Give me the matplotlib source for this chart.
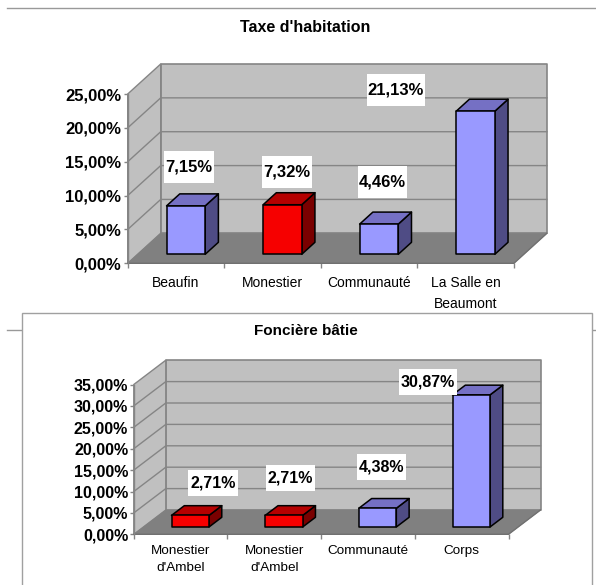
import matplotlib
matplotlib.use("Agg")
from matplotlib import pyplot as plt
from matplotlib.lines import Line2D
from matplotlib.patches import Polygon, Rectangle
from matplotlib.transforms import Affine2D

W, H = 596, 585

# ============================================================
# Data
# ============================================================

cats_th = ["Beaufin", "Monestier", "Communauté", "La Salle en\nBeaumont"]
vals_th = [7.15, 7.32, 4.46, 21.13]
labels_th = ["7,15%", "7,32%", "4,46%", "21,13%"]
red_th = [False, True, False, False]
ticks_th = [0, 5, 10, 15, 20, 25]
ticklabels_th = ["0,00%", "5,00%", "10,00%", "15,00%", "20,00%", "25,00%"]

cats_fb = ["Monestier\nd'Ambel", "Monestier\nd'Ambel", "Communauté", "Corps"]
vals_fb = [2.71, 2.71, 4.38, 30.87]
labels_fb = ["2,71%", "2,71%", "4,38%", "30,87%"]
red_fb = [True, True, False, False]
ticks_fb = [0, 5, 10, 15, 20, 25, 30, 35]
ticklabels_fb = ["0,00%", "5,00%", "10,00%", "15,00%", "20,00%", "25,00%", "30,00%", "35,00%"]

# white boxes behind the value labels, in image pixels (x0, x1, y0, y1)
boxes_th = [(164, 213.6, 151, 182.7), (262, 311.7, 156, 188),
            (357.7, 407, 166, 198), (367, 425, 74, 106)]
boxes_fb = [(188, 237.6, 469.7, 495.7), (265.7, 315, 465, 491),
            (356.5, 406, 454, 480), (399, 456.9, 369.3, 395.3)]

BLUE = ("#9999ff", "#7570c4", "#4f4c85")
RED = ("#f60000", "#b50000", "#7a0000")
GREY_LINE = "#858585"
FONT = "Liberation Sans"

fig = plt.figure(figsize=(W / 100, H / 100), dpi=100, facecolor="white")
px = Affine2D().scale(1 / W, -1 / H).translate(0, 1) + fig.transFigure

# ============================================================
# Page lines and frame of the second chart
# ============================================================

fig.add_artist(Line2D([7, 596], [7.5, 7.5], color="#999999", lw=1, transform=px, zorder=-3))
fig.add_artist(Line2D([7, 596], [329.5, 329.5], color="#999999", lw=1, transform=px, zorder=-3))
fig.add_artist(Rectangle((21.7, 313.3), 570, 290, facecolor="white",
                         edgecolor="#a0a0a0", lw=1, transform=px, zorder=-2))


def grafico(box, top, depth_px, cats, vals, labels, red, ticks, ticklabels, boxes,
            size_y, pad_y, pad_cat, spacing, size_cat):
    x0, x1, y_top, y_bot = box
    ax = fig.add_axes([x0 / W, 1 - y_bot / H, (x1 - x0) / W, (y_bot - y_top) / H])
    ax.set_xlim(-0.5, len(cats) - 0.5)
    ax.set_ylim(0, top)
    ax.patch.set_visible(False)
    for s in ax.spines.values():
        s.set_visible(False)

    # depth expressed in data units
    dx = depth_px[0] * len(cats) / (x1 - x0)
    dy = depth_px[1] * top / (y_bot - y_top)

    def pr(x, v, d):
        return (x + d * dx, v + d * dy)

    def poly(points, face, edge, lw, z):
        ax.add_patch(Polygon(points, closed=True, facecolor=face, edgecolor=edge,
                             lw=lw, zorder=z, clip_on=False, joinstyle="round"))

    xa, xb = -0.5, len(cats) - 0.5

    # walls and floor
    poly([pr(xa, 0, 1), pr(xb, 0, 1), pr(xb, top, 1), pr(xa, top, 1)], "#c0c0c0", GREY_LINE, 1.2, 1)
    poly([pr(xa, 0, 0), pr(xa, 0, 1), pr(xa, top, 1), pr(xa, top, 0)], "#c0c0c0", GREY_LINE, 1.0, 1)

    for t in ticks[1:-1]:
        p = [pr(xa, t, 0), pr(xa, t, 1), pr(xb, t, 1)]
        ax.plot([q[0] for q in p], [q[1] for q in p], color=GREY_LINE, lw=1, zorder=2, clip_on=False)

    poly([pr(xa, 0, 0), pr(xb, 0, 0), pr(xb, 0, 1), pr(xa, 0, 1)], "#808080", "#808080", 0.5, 3)
    ax.plot([xa, xb, pr(xb, 0, 1)[0]], [0, 0, pr(xb, 0, 1)[1]], color="#707070", lw=1, zorder=3, clip_on=False)

    # bars
    half = 0.2
    d0, d1 = 0.3, 0.7
    for i, v in enumerate(vals):
        front, roof, side = RED if red[i] else BLUE
        a, b = i - half, i + half
        poly([pr(b, 0, d0), pr(b, 0, d1), pr(b, v, d1), pr(b, v, d0)], side, "black", 1.1, 4)
        poly([pr(a, v, d0), pr(b, v, d0), pr(b, v, d1), pr(a, v, d1)], roof, "black", 1.1, 4)
        poly([pr(a, 0, d0), pr(b, 0, d0), pr(b, v, d0), pr(a, v, d0)], front, "black", 1.1, 5)

    # value labels
    for (bx0, bx1, by0, by1), txt in zip(boxes, labels):
        ax.add_patch(Rectangle((bx0, by0), bx1 - bx0, by1 - by0, facecolor="white", edgecolor="none",
                               transform=px, zorder=6, clip_on=False))
        ax.text((bx0 + bx1) / 2, (by0 + by1) / 2, txt, transform=px, ha="center", va="center",
                zorder=7, fontweight="bold", family=FONT, fontsize=size_y)

    # axes ticks
    ax.set_yticks(ticks)
    ax.set_yticklabels(ticklabels, fontweight="bold", family=FONT, fontsize=size_y)
    ax.tick_params(axis="y", length=3, width=1, color=GREY_LINE, pad=pad_y)
    ax.set_xticks([k - 0.5 for k in range(len(cats) + 1)])
    ax.set_xticklabels([])
    ax.tick_params(axis="x", which="major", length=3.5, width=1, color=GREY_LINE)
    ax.set_xticks(range(len(cats)), minor=True)
    ax.set_xticklabels(cats, minor=True, linespacing=spacing, family=FONT, fontsize=size_cat)
    ax.tick_params(axis="x", which="minor", length=0, pad=pad_cat)
    ax.plot([xa, xa], [0, top], color=GREY_LINE, lw=1, zorder=3, clip_on=False)
    return ax


grafico((127.7, 513.9, 94, 263.3), 25, (33, 30), cats_th, vals_th, labels_th, red_th,
        ticks_th, ticklabels_th, boxes_th, 12, 1.5, 9, 1.65, 10)

grafico((133.8, 508.5, 384.5, 534.3), 35, (32, 24.3), cats_fb, vals_fb, labels_fb, red_fb,
        ticks_fb, ticklabels_fb, boxes_fb, 11.5, 1, 8, 1.5, 9.7)

fig.text(305.5, 28, "Taxe d'habitation", transform=px, ha="center", va="center",
         family=FONT, fontsize=11.5, fontweight="bold")
fig.text(306, 331, "Foncière bâtie", transform=px, ha="center", va="center",
         family=FONT, fontsize=11, fontweight="bold")

fig.savefig("out.png", dpi=100)
plt.close(fig)
